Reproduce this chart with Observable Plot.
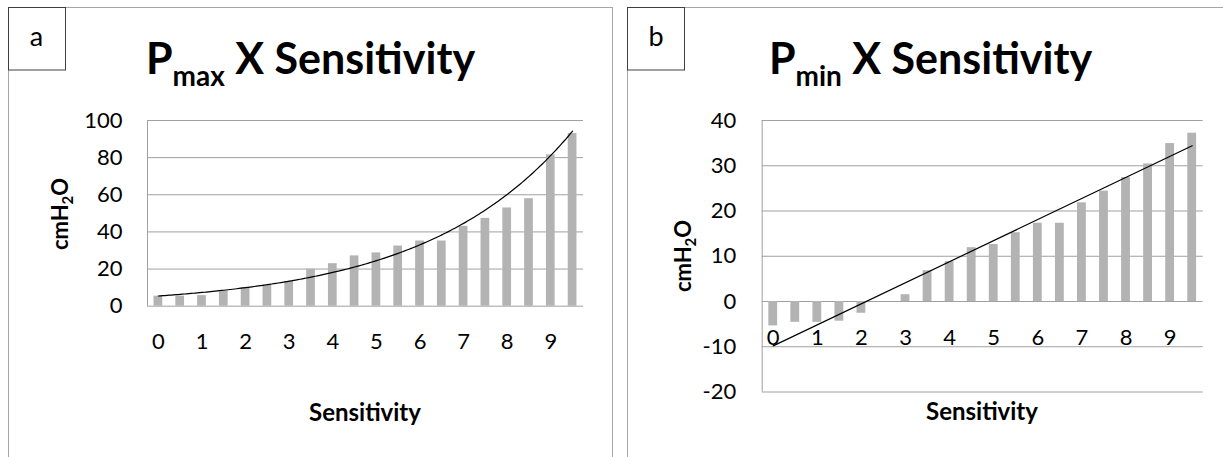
<!DOCTYPE html>
<html>
<head>
<meta charset="utf-8">
<script src="https://cdn.jsdelivr.net/npm/d3@7"></script>
<script src="https://cdn.jsdelivr.net/npm/@observablehq/plot@0.6"></script>
<style>
  html, body { margin: 0; padding: 0; background: #fff; }
  body { width: 1223px; height: 457px; overflow: hidden; position: relative; font-family: Lato, "Open Sans", sans-serif; }
  .chart { position: absolute; }
  #overlay { position: absolute; left: 0; top: 0; z-index: 2; pointer-events: none; }
</style>
</head>
<body>
<div id="chartA" class="chart" style="left:8px;top:90px;"></div>
<div id="chartB" class="chart" style="left:630px;top:90px;"></div>
<svg id="overlay" width="1223" height="457" xmlns="http://www.w3.org/2000/svg" font-family="Lato, 'Open Sans', sans-serif">
  <rect x="8.5" y="7.5" width="604" height="480" fill="none" stroke="#a6a6a6"/>
  <rect x="627.5" y="7.5" width="604" height="480" fill="none" stroke="#a6a6a6"/>
  <rect x="8.5" y="7.5" width="57" height="62.5" fill="#fff" stroke="#3f3f3f"/>
  <text x="36.5" y="45.5" text-anchor="middle" font-size="27">a</text>
  <rect x="627.5" y="7.5" width="57" height="62.5" fill="#fff" stroke="#3f3f3f"/>
  <text x="656" y="45.5" text-anchor="middle" font-size="27">b</text>
  <text x="310.5" y="74" text-anchor="middle" font-size="43" font-weight="bold">P<tspan font-size="28" dy="12">max</tspan><tspan dy="-12"> X Sensitivity</tspan></text>
  <text x="930.5" y="74" text-anchor="middle" font-size="43" font-weight="bold">P<tspan font-size="28" dy="12">min</tspan><tspan dy="-12"> X Sensitivity</tspan></text>
  <text transform="translate(68,214) rotate(-90)" text-anchor="middle" font-size="22" font-weight="bold">cmH<tspan font-size="15" dy="5">2</tspan><tspan dy="-5">O</tspan></text>
  <text transform="translate(691,256) rotate(-90)" text-anchor="middle" font-size="22" font-weight="bold">cmH<tspan font-size="15" dy="5">2</tspan><tspan dy="-5">O</tspan></text>
  <text x="365" y="420.5" text-anchor="middle" font-size="24" font-weight="bold">Sensitivity</text>
  <text x="982" y="419.5" text-anchor="middle" font-size="24" font-weight="bold">Sensitivity</text>
</svg>
<script>
// ---- data ----
const sensitivity = [0, 0.5, 1, 1.5, 2, 2.5, 3, 3.5, 4, 4.5, 5, 5.5, 6, 6.5, 7, 7.5, 8, 8.5, 9, 9.5];
const pmax = [5.4, 5.4, 5.7, 8.1, 10.0, 11.5, 13.3, 19.9, 22.9, 27.1, 28.7, 32.4, 35.1, 35.1, 43.0, 47.3, 52.9, 57.9, 81.5, 93.0];
const pmin = [-5.4, -4.6, -4.6, -4.35, -2.6, 0, 1.5, 6.8, 8.8, 11.9, 12.6, 15.2, 17.3, 17.3, 21.8, 24.4, 27.4, 30.4, 34.9, 37.2];
const xTicks = [0, 1, 2, 3, 4, 5, 6, 7, 8, 9];
const pmaxTicks = [0, 20, 40, 60, 80, 100];
const pminTicks = [-20, -10, 0, 10, 20, 30, 40];

const barColor = "#b3b3b3";
const gridColor = "#a0a0a0";

const rowsA = sensitivity.map((s, i) => ({s, v: pmax[i]}));
const rowsB = sensitivity.map((s, i) => ({s, v: pmin[i]}));

// exponential trendline (least-squares fit of ln(y) on x, as a spreadsheet trendline does)
const lnA = pmax.map(Math.log);
const mx = d3.mean(sensitivity), my = d3.mean(lnA);
const slope = d3.sum(sensitivity, (x, i) => (x - mx) * (lnA[i] - my)) / d3.sum(sensitivity, x => (x - mx) ** 2);
const icpt = my - slope * mx;
const xMin = d3.min(sensitivity), xMax = d3.max(sensitivity);
const trendA = d3.range(0, 191).map(k => xMin + (xMax - xMin) * k / 190).map(s => ({s, v: Math.exp(icpt + slope * s)}));

const style = {fontFamily: "Lato, 'Open Sans', sans-serif", fontSize: "22px", background: "transparent", overflow: "visible", color: "#000"};
const xDomain = [xMin - 0.25, xMax + 0.25];
const fmt = d => String(d);

const chartA = Plot.plot({
  width: 600, height: 290,
  marginLeft: 139, marginTop: 30, marginRight: 25, marginBottom: 74.3,
  style,
  x: {domain: xDomain, axis: null},
  y: {domain: [0, 100], axis: null},
  marks: [
    Plot.gridY(pmaxTicks, {stroke: gridColor, strokeOpacity: 1, strokeWidth: 1}),
    Plot.ruleX([xDomain[0]], {stroke: gridColor, strokeWidth: 1}),
    Plot.axisY(pmaxTicks, {tickSize: 0, tickPadding: 25, fontSize: 22, fill: "#000", label: null, tickFormat: fmt}),
    Plot.rect(rowsA, {x1: d => d.s - 0.1, x2: d => d.s + 0.1, y1: () => 0, y2: "v", fill: barColor}),
    Plot.line(trendA, {x: "s", y: "v", stroke: "#000", strokeWidth: 1.2}),
    Plot.text(xTicks, {x: d => d, y: () => 0, dy: 36, text: fmt, fontSize: 22, fill: "#000"})
  ]
});
document.getElementById("chartA").appendChild(chartA);

const chartB = Plot.plot({
  width: 593, height: 330,
  marginLeft: 131.7, marginTop: 30, marginRight: 20.3, marginBottom: 28.5,
  style,
  x: {domain: xDomain, axis: null},
  y: {domain: [-20, 40], axis: null},
  marks: [
    Plot.gridY(pminTicks, {stroke: gridColor, strokeOpacity: 1, strokeWidth: 1}),
    Plot.ruleX([xDomain[0]], {stroke: gridColor, strokeWidth: 1}),
    Plot.axisY(pminTicks, {tickSize: 0, tickPadding: 26, fontSize: 22, fill: "#000", label: null, tickFormat: fmt}),
    Plot.rect(rowsB, {x1: d => d.s - 0.1, x2: d => d.s + 0.1, y1: () => 0, y2: "v", fill: barColor}),
    Plot.linearRegressionY(rowsB, {x: "s", y: "v", ci: 0, stroke: "#000", strokeWidth: 1.2}),
    Plot.text(xTicks, {x: d => d, y: () => 0, dy: 36, text: fmt, fontSize: 22, fill: "#000"})
  ]
});
document.getElementById("chartB").appendChild(chartB);
</script>
</body>
</html>
